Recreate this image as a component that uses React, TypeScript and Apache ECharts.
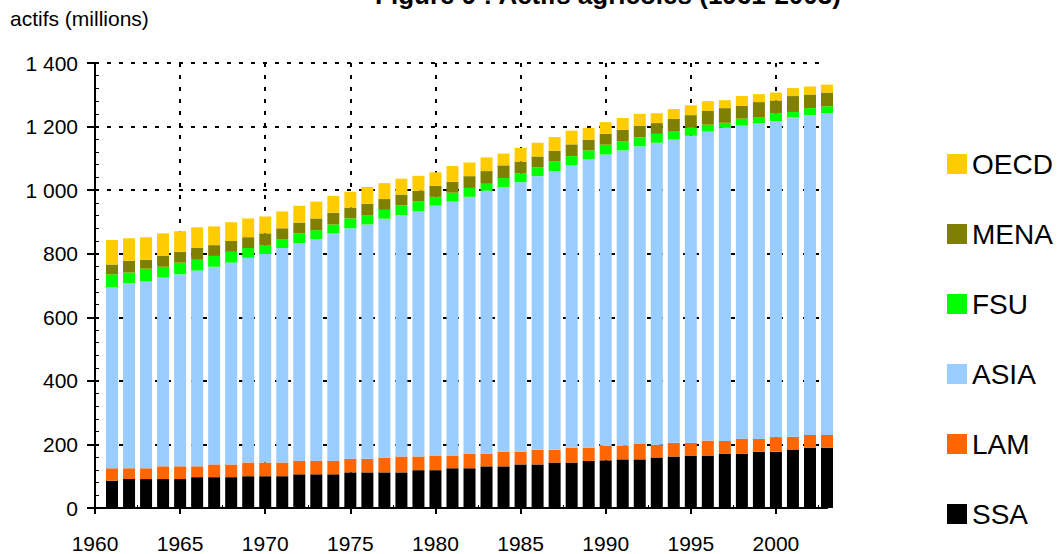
import React, { useEffect, useRef } from "react";
import * as echarts from "echarts";

const years: number[] = [];
for (let y = 1961; y <= 2003; y++) years.push(y);

const SSA = [86, 91, 91, 91, 91, 97, 97, 97, 100, 100, 100, 106, 106, 106, 112, 112, 112, 112, 119, 119, 125, 125, 131, 131, 137, 137, 143, 143, 148, 150, 153, 153, 159, 162, 165, 165, 171, 171, 177, 177, 184, 190, 190];
const LAM = [39, 34, 34, 40, 40, 34, 40, 40, 43, 43, 43, 43, 43, 43, 43, 43, 46, 50, 43, 46, 40, 46, 40, 46, 40, 46, 40, 47, 42, 46, 43, 50, 40, 43, 40, 47, 40, 47, 40, 46, 40, 40, 40];
const ASIA = [570, 582, 588, 594, 604, 616, 622, 635, 644, 656, 675, 684, 697, 715, 725, 737, 752, 759, 771, 786, 799, 808, 827, 833, 848, 861, 876, 889, 907, 916, 929, 935, 950, 954, 966, 972, 985, 985, 994, 994, 1006, 1006, 1012];
const FSU = [40, 34, 40, 34, 37, 34, 34, 34, 31, 28, 28, 31, 28, 28, 31, 28, 28, 31, 31, 28, 28, 28, 22, 28, 28, 28, 31, 28, 28, 31, 28, 28, 28, 25, 25, 22, 16, 22, 19, 25, 16, 22, 22];
const MENA = [31, 37, 28, 34, 34, 37, 34, 34, 34, 37, 34, 34, 37, 37, 34, 37, 34, 34, 34, 34, 34, 37, 40, 40, 37, 34, 34, 37, 34, 34, 37, 37, 34, 40, 40, 43, 46, 40, 47, 40, 50, 43, 43];
const OECD = [77, 71, 71, 71, 65, 65, 59, 59, 59, 53, 53, 53, 53, 53, 50, 53, 50, 50, 47, 43, 50, 43, 43, 37, 43, 43, 43, 43, 37, 37, 37, 37, 31, 31, 31, 31, 25, 31, 25, 25, 25, 25, 25];

// axis categories: 1960 (empty start) .. 2003
const axisYears = [1960, ...years].map(String);
const xMinorTicks = [1962.5, 1967.5, 1972.5, 1977.5, 1982.5, 1987.5, 1992.5, 1997.5, 2002.5];
const yMinorTicks: number[] = [];
for (let v = 0; v <= 1400; v += 40) yMinorTicks.push(v);

const seriesDefs = [
  { name: "SSA", data: SSA, color: "#000000" },
  { name: "LAM", data: LAM, color: "#FF6600" },
  { name: "ASIA", data: ASIA, color: "#99CCFF" },
  { name: "FSU", data: FSU, color: "#00FF00" },
  { name: "MENA", data: MENA, color: "#808000" },
  { name: "OECD", data: OECD, color: "#FFCC00" },
];

const FONT = "'Liberation Sans', Arial, Helvetica, sans-serif";
const gridDash = { color: "#000", width: 2, type: [4, 8] as number[] };

export default function App() {
  const ref = useRef<HTMLDivElement>(null);
  useEffect(() => {
    if (!ref.current) return;
    const chart = echarts.init(ref.current, null, { renderer: "svg" });
    const fmtY = (v: number) =>
      v >= 1000 ? `${Math.floor(v / 1000)} ${String(v % 1000).padStart(3, "0")}` : String(v);
    chart.setOption({
      animation: false,
      backgroundColor: "#fff",
      textStyle: { fontFamily: FONT },
      grid: { left: 95, top: 63, right: 231, bottom: 40, containLabel: false },
      xAxis: [
        {
          type: "category",
          data: axisYears,
          boundaryGap: false,
          position: "bottom",
          axisLine: { show: true, lineStyle: { color: "#000", width: 2 } },
          axisTick: { show: true, interval: 4, length: 6, inside: false, lineStyle: { color: "#000", width: 2 } },
          axisLabel: { show: true, interval: 4, color: "#000", fontSize: 21, fontFamily: FONT, margin: 25 },
          splitLine: { show: true, interval: 4, lineStyle: gridDash },
        },
        {
          type: "value",
          min: 1960,
          max: 2003,
          position: "bottom",
          axisLine: { show: false },
          axisTick: { show: true, inside: true, length: 3, lineStyle: { color: "#000", width: 1 }, customValues: xMinorTicks },
          axisLabel: { show: false },
          splitLine: { show: false },
        },
      ],
      yAxis: [
        {
          type: "value",
          min: 0,
          max: 1400,
          interval: 200,
          position: "left",
          axisLine: { show: true, lineStyle: { color: "#000", width: 2 } },
          axisTick: { show: true, length: 8, inside: false, lineStyle: { color: "#000", width: 2 } },
          axisLabel: { color: "#000", fontSize: 21, fontFamily: FONT, margin: 17, formatter: fmtY },
          splitLine: { show: true, lineStyle: gridDash },
        },
        {
          type: "value",
          min: 0,
          max: 1400,
          position: "left",
          axisLine: { show: false },
          axisTick: { show: true, inside: true, length: 4, lineStyle: { color: "#000", width: 1 }, customValues: yMinorTicks },
          axisLabel: { show: false },
          splitLine: { show: false },
        },
      ],
      legend: {
        orient: "vertical",
        left: 942,
        top: 145,
        itemWidth: 20,
        itemHeight: 20,
        itemGap: 42,
        icon: "rect",
        data: ["OECD", "MENA", "FSU", "ASIA", "LAM", "SSA"],
        textStyle: { color: "#000", fontSize: 28, fontFamily: FONT },
      },
      graphic: [
        {
          type: "text",
          left: 10,
          top: 8,
          style: { text: "actifs (millions)", fill: "#000", font: `21px ${FONT}` },
        },
        {
          type: "text",
          x: 608,
          y: -5,
          style: {
            text: "Figure 9 : Actifs agricoles (1961-2003)",
            fill: "#000",
            font: `bold 26px ${FONT}`,
            align: "center",
            verticalAlign: "middle",
          },
        },
      ],
      series: seriesDefs.map((s) => ({
        name: s.name,
        type: "bar",
        stack: "total",
        barWidth: 12,
        xAxisIndex: 0,
        yAxisIndex: 0,
        itemStyle: { color: s.color },
        data: [null, ...s.data],
      })),
    });
    return () => chart.dispose();
  }, []);
  return (
    <div
      ref={ref}
      style={{ position: "absolute", left: 0, top: 0, width: 1058, height: 554 }}
    />
  );
}
